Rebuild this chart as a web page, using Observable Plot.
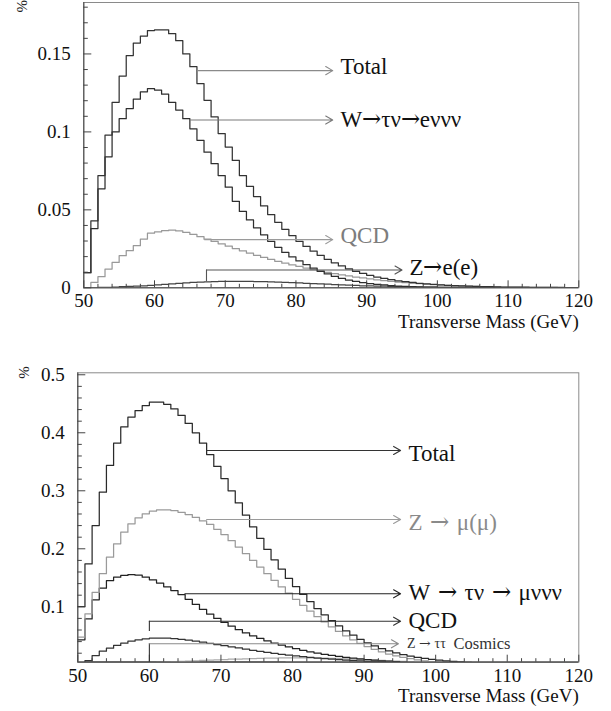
<!DOCTYPE html>
<html><head><meta charset="utf-8">
<script src="https://cdn.jsdelivr.net/npm/d3@7"></script>
<script src="https://cdn.jsdelivr.net/npm/@observablehq/plot@0.6"></script>
<style>
@font-face { font-family: "ArrowSerif"; src: local("DejaVu Serif"), local("DejaVuSerif"); unicode-range: U+2190-21FF; }
body{margin:0;background:#fff} #chart svg{display:block}
</style>
</head><body><div id="chart"></div>
<script>
// ---------- data ----------
const binEdges = d3.range(50, 121); // 1 GeV bins, 50..120
const xMajor = [50, 60, 70, 80, 90, 100, 110, 120];
const xMinor = [52,54,56,58,62,64,66,68,72,74,76,78,82,84,86,88,92,94,96,98,102,104,106,108,112,114,116,118];
const topYMajor = [0, 0.05, 0.1, 0.15];
const topYMinor = [0.01,0.02,0.03,0.04,0.06,0.07,0.08,0.09,0.11,0.12,0.13,0.14,0.16,0.17,0.18];
const botYMajor = [0.1, 0.2, 0.3, 0.4, 0.5];
const botYMinor = [0.02,0.04,0.06,0.08,0.12,0.14,0.16,0.18,0.22,0.24,0.26,0.28,0.32,0.34,0.36,0.38,0.42,0.44,0.46,0.48];

// top panel (electron channel)
const topTotal = [0.0097,0.043,0.072,0.098,0.119,0.1358,0.149,0.157,0.1615,0.165,
0.1655,0.1655,0.163,0.1585,0.150,0.1418,0.131,0.1203,0.1096,0.0989,
0.0903,0.0817,0.072,0.065,0.0585,0.0525,0.047,0.042,0.0375,0.0335,
0.0298,0.0265,0.0235,0.0208,0.0183,0.016,0.014,0.0122,0.0106,0.0092,
0.008,0.0069,0.006,0.0052,0.0045,0.0039,0.0034,0.0029,0.0025,0.0022,
0.0019,0.0016,0.0014,0.0012,0.001,0.0009,0.0008,0.0007,0.0006,0.0005,
0.0005,0.0004,0.0004,0.0003,0.0003,0.0002,0.0002,0.0002,0.0001,0.0001];
const topW = [0.0097,0.038,0.0635,0.084,0.100,0.1085,0.115,0.121,0.1257,0.1278,
0.1268,0.1242,0.119,0.114,0.1085,0.102,0.0946,0.087,0.0796,0.072,
0.0645,0.0555,0.049,0.0435,0.0385,0.034,0.0298,0.026,0.0227,0.0198,
0.0172,0.0148,0.0126,0.0106,0.0089,0.0074,0.0061,0.005,0.0041,0.0033,
0.0027,0.0022,0.0018,0.0014,0.0011,0.0009,0.0007,0.0006,0.0005,0.0004,
0.0003,0.0003,0.0002,0.0002,0.0002,0.0001,0.0001,0.0001,0.0001,0.0001,
0,0,0,0,0,0,0,0,0,0];
const topQCD = [0,0.0034,0.0071,0.012,0.0163,0.0206,0.0238,0.027,0.0313,0.035,
0.0358,0.0366,0.037,0.0365,0.0355,0.0342,0.0328,0.0312,0.0297,0.0282,
0.0267,0.0252,0.0237,0.0222,0.0208,0.0195,0.0182,0.017,0.0158,0.0147,
0.0137,0.0127,0.0117,0.0108,0.0099,0.0091,0.0083,0.0076,0.0069,0.0063,
0.0057,0.0051,0.0046,0.0041,0.0037,0.0033,0.0029,0.0026,0.0023,0.002,
0.0018,0.0016,0.0014,0.0012,0.001,0.0009,0.0008,0.0007,0.0006,0.0005,
0.0004,0.0004,0.0003,0.0003,0.0002,0.0002,0.0002,0.0001,0.0001,0.0001];
const topZee = [0,0,0.0002,0.0003,0.0005,0.0007,0.0009,0.0011,0.0013,0.0016,
0.0019,0.0022,0.0025,0.0028,0.0031,0.0034,0.0036,0.0038,0.004,0.0041,
0.0042,0.0042,0.0042,0.0041,0.004,0.0039,0.0038,0.0036,0.0035,0.0033,
0.0031,0.0029,0.0027,0.0025,0.0023,0.0021,0.0019,0.0017,0.0015,0.0013,
0.0012,0.0011,0.001,0.0009,0.0008,0.0007,0.0006,0.0005,0.0004,0.0004,
0.0003,0.0003,0.0002,0.0002,0.0002,0.0001,0.0001,0.0001,0.0001,0.0001,
0,0,0,0,0,0,0,0,0,0];

// bottom panel (muon channel)
const botTotal = [0.1005,0.174,0.240,0.2976,0.3436,0.382,0.41,0.427,0.4384,0.447,
0.4528,0.4528,0.449,0.441,0.43,0.416,0.4,0.382,0.3625,0.342,
0.321,0.30,0.279,0.258,0.238,0.218,0.199,0.181,0.165,0.149,
0.135,0.1215,0.109,0.097,0.086,0.076,0.067,0.0585,0.051,0.044,
0.038,0.0325,0.028,0.024,0.0205,0.0175,0.015,0.0128,0.011,0.0094,
0.008,0.0068,0.0058,0.005,0.0043,0.0037,0.0032,0.0028,0.0024,0.0021,
0.0018,0.0015,0.0013,0.0011,0.001,0.0008,0.0007,0.0006,0.0005,0.0004];
const botZmm = [0.0476,0.088,0.125,0.157,0.1855,0.2086,0.2286,0.2431,0.2534,0.2603,
0.2648,0.2672,0.2672,0.266,0.263,0.259,0.254,0.248,0.242,0.2335,
0.2245,0.214,0.203,0.1915,0.18,0.1685,0.157,0.1455,0.1345,0.1235,
0.113,0.1025,0.0925,0.083,0.074,0.0655,0.0575,0.05,0.0432,0.037,
0.0315,0.0266,0.0223,0.0186,0.0155,0.0128,0.0105,0.0086,0.007,0.0057,
0.0046,0.0037,0.003,0.0024,0.0019,0.0015,0.0012,0.001,0.0008,0.0006,
0.0005,0.0004,0.0003,0.0003,0.0002,0.0002,0.0001,0.0001,0.0001,0.0001];
const botW = [0.043,0.079,0.112,0.132,0.145,0.151,0.154,0.1555,0.1545,0.151,
0.1465,0.141,0.1345,0.128,0.121,0.113,0.104,0.0955,0.0875,0.08,
0.073,0.0665,0.0605,0.055,0.05,0.0455,0.0413,0.0375,0.034,0.0308,
0.0278,0.025,0.0225,0.0202,0.0181,0.0162,0.0145,0.0129,0.0115,0.0102,
0.009,0.008,0.007,0.0062,0.0055,0.0048,0.0042,0.0037,0.0032,0.0028,
0.0024,0.0021,0.0018,0.0016,0.0014,0.0012,0.001,0.0009,0.0008,0.0007,
0.0006,0.0005,0.0005,0.0004,0.0004,0.0003,0.0003,0.0003,0.0002,0.0002];
const botQCD = [0.002,0.0074,0.016,0.0235,0.0287,0.0333,0.0373,0.0407,0.043,0.0448,
0.0458,0.0462,0.046,0.0452,0.044,0.0425,0.0408,0.039,0.037,0.035,
0.033,0.031,0.029,0.027,0.025,0.0232,0.0214,0.0197,0.0181,0.0166,
0.0152,0.0139,0.0127,0.0116,0.0106,0.0097,0.0088,0.008,0.0073,0.0066,
0.006,0.0054,0.0049,0.0044,0.004,0.0036,0.0032,0.0029,0.0026,0.0023,
0.002,0.0018,0.0016,0.0014,0.0012,0.0011,0.001,0.0009,0.0008,0.0007,
0.0006,0.0005,0.0005,0.0004,0.0004,0.0003,0.0003,0.0003,0.0002,0.0002];
const botZtt = [0,0,0,0,0.0004,0.0008,0.0013,0.0018,0.0023,0.0029,
0.0034,0.004,0.0046,0.0052,0.0058,0.0064,0.007,0.0076,0.0081,0.0086,
0.0091,0.0096,0.01,0.0104,0.0108,0.0111,0.0114,0.0117,0.0119,0.012,
0.0121,0.0121,0.012,0.0118,0.0116,0.0113,0.0109,0.0104,0.0099,0.0094,
0.0088,0.0082,0.0076,0.007,0.0064,0.0058,0.0053,0.0048,0.0043,0.0039,
0.0035,0.0031,0.0028,0.0025,0.0022,0.002,0.0018,0.0016,0.0014,0.0012,
0.0011,0.001,0.0009,0.0008,0.0007,0.0006,0.0005,0.0004,0.0003,0.0002];
const botCosmics = [0.0052,0.0053,0.0054,0.0055,0.0055,0.0056,0.0056,0.0057,0.0057,0.0057,
0.0057,0.0057,0.0057,0.0057,0.0056,0.0056,0.0056,0.0055,0.0055,0.0055,
0.0055,0.0054,0.0054,0.0054,0.0054,0.0053,0.0053,0.0053,0.0053,0.0052,
0.0052,0.0052,0.0052,0.0052,0.0051,0.0051,0.0051,0.0051,0.0051,0.0051,
0.005,0.005,0.005,0.005,0.005,0.005,0.005,0.005,0.005,0.005,
0.005,0.005,0.005,0.005,0.005,0.005,0.005,0.005,0.005,0.005,
0.005,0.005,0.005,0.005,0.005,0.005,0.005,0.005,0.005,0.005];

// annotations
const topLabels = ["Total", "W\u2192\u03c4\u03bd\u2192e\u03bd\u03bd\u03bd", "QCD", "Z\u2192e(e)"];
const topLabelX = [86.3, 86.3, 86.3, 96.05];
const topLabelY = [0.1416, 0.1081, 0.0335, 0.0131];
const topLabelColor = ["#111", "#111", "#7d7d7d", "#111"];
const topArrowX1 = [66.1, 65.1, 67.1, 67.35];
const topArrowX2 = [85.2, 85.2, 85.2, 95.0];
const topArrowY = [0.1393, 0.1076, 0.0309, 0.0114];
const topArrowColor = ["#8a8a8a", "#7a7a7a", "#9a9a9a", "#555"];
const topBracketX = [67.35], topBracketY1 = [0.0039], topBracketY2 = [0.0114];

const botLabels = ["Total", "Z\u2004\u2192\u2004\u03bc(\u03bc)", "W\u2004\u2192\u2004\u03c4\u03bd\u2004\u2192\u2004\u03bc\u03bd\u03bd\u03bd", "QCD"];
const botLabelX = [96.2, 96.2, 96.2, 96.2];
const botLabelY = [0.3648, 0.2459, 0.1252, 0.0764];
const botLabelColor = ["#111", "#8a8a8a", "#111", "#111"];
const botArrowX1 = [68.0, 68.0, 64.96, 60, 60];
const botArrowX2 = [95.1, 95.1, 95.1, 95.1, 94.8];
const botArrowY = [0.3695, 0.2505, 0.1224, 0.0752, 0.0362];
const botArrowColor = ["#333", "#9a9a9a", "#222", "#333", "#8a8a8a"];
const botBracketX = [60, 60], botBracketY1 = [0.0574, 0.0045], botBracketY2 = [0.0752, 0.0362];
const smallLabels = ["Z \u2192 \u03c4\u03c4", "Cosmics"];
const smallLabelX = [96.0, 102.5];
const smallLabelY = [0.0362, 0.0362];

// ---------- helpers ----------
const FONT = "ArrowSerif, 'Liberation Serif', 'Times New Roman', serif";
function hist(vals, name, color) {
  const pts = vals.map((v, i) => ({x: binEdges[i], y: v, name}));
  pts.push({x: binEdges[vals.length], y: vals[vals.length - 1], name});
  return Plot.line(pts, {x: "x", y: "y", curve: "step-after", stroke: color, strokeWidth: 1.25, clip: true});
}
const zip = (...cols) => cols[0].map((_, i) => cols.map(c => c[i]));

function axes(yMajor, yMinor) {
  return [
    Plot.axisX(xMinor, {tickSize: -3.5, fill: "none", label: null, stroke: "#444"}),
    Plot.axisX(xMajor, {tickSize: -7, fill: "none", label: null, stroke: "#444"}),
    Plot.axisX(xMajor, {tickSize: 0, tickPadding: 6, fontSize: 19, label: null, fill: "#111", tickFormat: d => `${d}`}),
    Plot.axisY(yMinor, {tickSize: -4.5, fill: "none", label: null, stroke: "#444"}),
    Plot.axisY(yMajor, {tickSize: -8, fill: "none", label: null, stroke: "#444"}),
    Plot.axisY(yMajor, {tickSize: 0, tickPadding: 13, fontSize: 19, label: null, fill: "#111", tickFormat: d => `${d}`})
  ];
}

// ---------- top panel ----------
const topArrows = zip(topArrowX1, topArrowX2, topArrowY, topArrowColor).map(([x1, x2, y, c]) => ({x1, x2, y, c}));
const topTexts = zip(topLabels, topLabelX, topLabelY, topLabelColor).map(([t, x, y, c]) => ({t, x, y, c}));
const topBr = zip(topBracketX, topBracketY1, topBracketY2).map(([x, y1, y2]) => ({x, y1, y2}));

const topPlot = Plot.plot({
  width: 611, height: 340,
  marginLeft: 83.3, marginRight: 32.7, marginTop: 2, marginBottom: 52.7,
  x: {domain: [50, 120]},
  y: {domain: [0, 0.183]},
  style: {fontFamily: FONT, background: "#fff", overflow: "visible", color: "#111"},
  marks: [
    Plot.frame({stroke: "#8a8a8a"}),
    hist(topZee, "Z", "#444"),
    hist(topQCD, "QCD", "#999"),
    hist(topW, "W", "#2e2e2e"),
    hist(topTotal, "Total", "#333"),
    Plot.ruleX([50], {stroke: "#444"}),
    Plot.ruleY([0], {stroke: "#444"}),
    ...axes(topYMajor, topYMinor),
    Plot.ruleX(topBr, {x: "x", y1: "y1", y2: "y2", stroke: "#555", strokeWidth: 1.1}),
    Plot.arrow(topArrows, {x1: "x1", x2: "x2", y1: "y", y2: "y", stroke: "c", strokeWidth: 1.1, headLength: 11, headAngle: 60}),
    Plot.text(topTexts, {x: "x", y: "y", text: "t", fill: "c", textAnchor: "start", fontSize: 23}),
    Plot.text(["%"], {text: d => d, frameAnchor: "top-left", lineAnchor: "middle", dx: -62, dy: 10, rotate: -90, fontSize: 15, fill: "#222"}),
    Plot.text(["Transverse Mass (GeV)"], {text: d => d, frameAnchor: "bottom-right", lineAnchor: "middle", textAnchor: "end", dx: 0, dy: 34.5, fontSize: 19, fill: "#111"})
  ]
});

// ---------- bottom panel ----------
const botArrows = zip(botArrowX1, botArrowX2, botArrowY, botArrowColor).map(([x1, x2, y, c]) => ({x1, x2, y, c}));
const botTexts = zip(botLabels, botLabelX, botLabelY, botLabelColor).map(([t, x, y, c]) => ({t, x, y, c}));
const botBr = zip(botBracketX, botBracketY1, botBracketY2).map(([x, y1, y2]) => ({x, y1, y2}));
const smallTexts = zip(smallLabels, smallLabelX, smallLabelY).map(([t, x, y]) => ({t, x, y}));

const botPlot = Plot.plot({
  width: 611, height: 371,
  marginLeft: 77.3, marginRight: 32.7, marginTop: 32.3, marginBottom: 49.3,
  x: {domain: [50, 120]},
  y: {domain: [0.0045, 0.5034]},
  style: {fontFamily: FONT, background: "#fff", overflow: "visible", color: "#111"},
  marks: [
    Plot.frame({stroke: "#8a8a8a"}),
    hist(botCosmics, "Cosmics", "#555"),
    hist(botZtt, "Ztt", "#aaa"),
    hist(botQCD, "QCD", "#333"),
    hist(botW, "W", "#222"),
    hist(botZmm, "Zmm", "#9a9a9a"),
    hist(botTotal, "Total", "#2a2a2a"),
    Plot.ruleX([50], {stroke: "#444"}),
    Plot.ruleY([0.0045], {stroke: "#444"}),
    ...axes(botYMajor, botYMinor),
    Plot.ruleX(botBr, {x: "x", y1: "y1", y2: "y2", stroke: "#333", strokeWidth: 1.1}),
    Plot.arrow(botArrows, {x1: "x1", x2: "x2", y1: "y", y2: "y", stroke: "c", strokeWidth: 1.1, headLength: 11, headAngle: 60}),
    Plot.text(botTexts, {x: "x", y: "y", text: "t", fill: "c", textAnchor: "start", fontSize: 23}),
    Plot.text(smallTexts.slice(0, 1), {x: "x", y: "y", text: "t", fill: "#333", textAnchor: "start", fontSize: 14}),
    Plot.text(smallTexts.slice(1), {x: "x", y: "y", text: "t", fill: "#333", textAnchor: "start", fontSize: 16.5}),
    Plot.text(["%"], {text: d => d, frameAnchor: "top-left", lineAnchor: "middle", dx: -54, dy: 6, rotate: -90, fontSize: 15, fill: "#222"}),
    Plot.text(["Transverse Mass (GeV)"], {text: d => d, frameAnchor: "bottom-right", lineAnchor: "middle", textAnchor: "end", dx: 0, dy: 33.5, fontSize: 19, fill: "#111"})
  ]
});

document.getElementById("chart").append(topPlot, botPlot);
</script>
</body></html>
